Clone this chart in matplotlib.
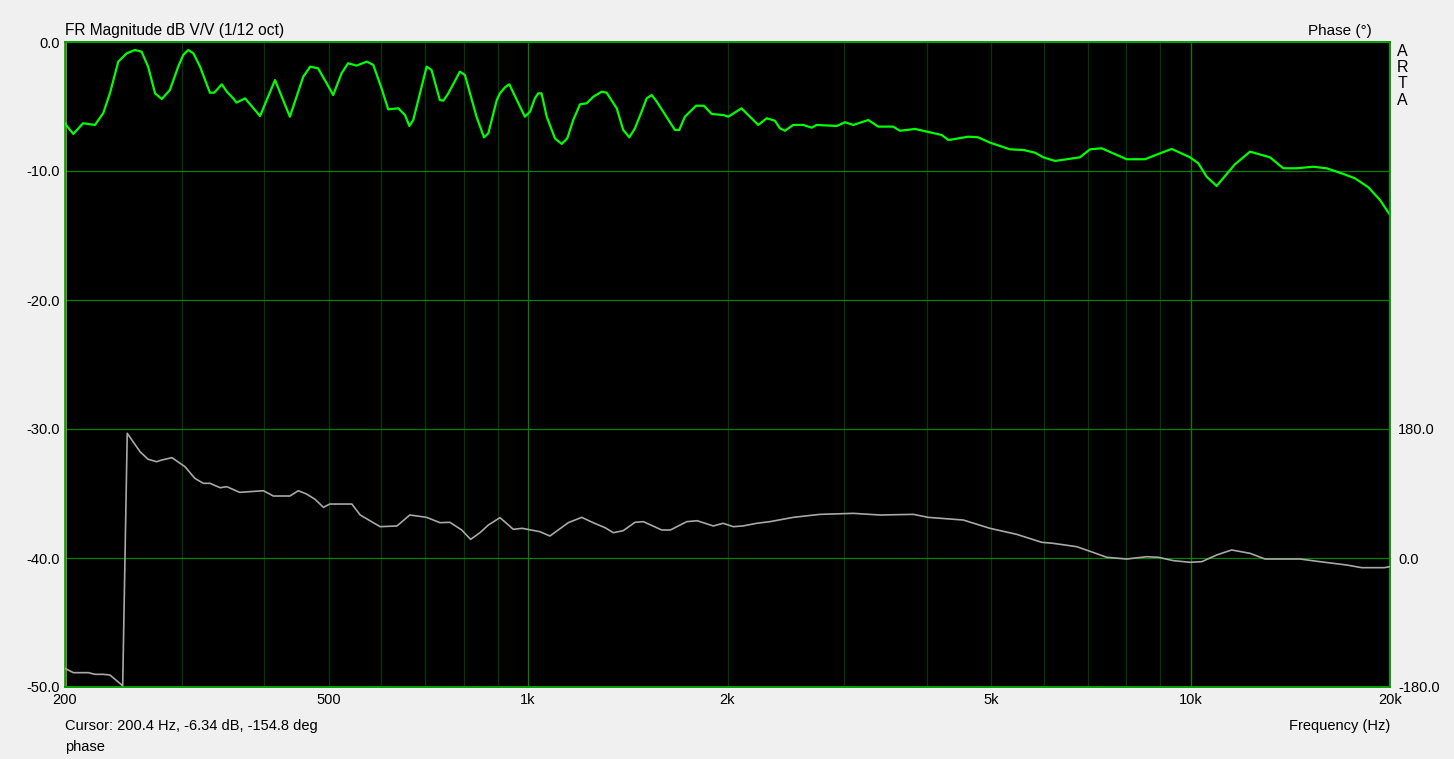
import numpy as np
import matplotlib
matplotlib.use('Agg')
import matplotlib.pyplot as plt

# magnitude (1/12 oct smoothed)
mag_freq = [200, 200.7, 205.9, 213, 222, 228.5, 233.8, 240.7, 247.8, 255, 261, 267, 273.5, 280, 288,
            296.5, 301.7, 307, 312.5, 319.8, 331, 336, 345, 351, 359, 363, 374, 394, 415, 437,
            457.8, 469, 482, 496.6, 508, 523, 535, 551, 571, 584, 601, 615, 637, 652, 662, 671,
            695, 703, 715, 736, 745, 758, 789, 803, 836, 858, 871, 897, 907, 923, 937, 989, 1007,
            1024, 1036, 1048, 1067, 1098, 1124, 1146, 1170, 1198, 1226, 1255, 1292, 1314, 1361,
            1392, 1422, 1450, 1484, 1510, 1537, 1564, 1666, 1691, 1725, 1793, 1843, 1893, 1971,
            2006, 2100, 2226, 2292, 2358, 2400, 2442, 2513, 2602, 2680, 2727, 2924, 3010, 3097,
            3262, 3378, 3558, 3642, 3838, 3998, 4212, 4310, 4618, 4780, 4980, 5339, 5592, 5824,
            5994, 6244, 6808, 7051, 7342, 8010, 8535, 8940, 9366, 9981, 10272, 10576, 10950,
            11668, 12297, 13181, 13804, 14459, 15321, 16052, 17009, 17713, 18550, 19321, 20000]
mag_db = [-6.3, -6.43, -7.13, -6.3, -6.43, -5.5, -3.98, -1.52, -0.88, -0.62, -0.75, -1.91, -3.98,
          -4.42, -3.72, -1.9, -1.0, -0.62, -0.88, -1.91, -3.93, -3.93, -3.28, -3.85, -4.37, -4.7,
          -4.37, -5.74, -2.95, -5.79, -2.69, -1.91, -2.04, -3.2, -4.11, -2.43, -1.65, -1.83,
          -1.52, -1.78, -3.59, -5.22, -5.14, -5.66, -6.51, -6.05, -2.95, -1.91, -2.17, -4.5,
          -4.55, -3.98, -2.3, -2.56, -5.79, -7.39, -7.08, -4.5, -3.98, -3.51, -3.28, -5.79,
          -5.4, -4.37, -3.98, -3.98, -5.79, -7.47, -7.9, -7.47, -6.05, -4.83, -4.75, -4.24,
          -3.85, -3.93, -5.14, -6.82, -7.39, -6.69, -5.4, -4.37, -4.11, -4.62, -6.82, -6.82,
          -5.79, -4.94, -4.94, -5.58, -5.66, -5.79, -5.14, -6.43, -5.91, -6.1, -6.69, -6.88,
          -6.43, -6.43, -6.64, -6.43, -6.51, -6.22, -6.43, -6.05, -6.56, -6.56, -6.88, -6.74,
          -6.95, -7.21, -7.6, -7.34, -7.39, -7.8, -8.32, -8.37, -8.58, -8.94, -9.22, -8.94,
          -8.32, -8.24, -9.09, -9.09, -8.68, -8.29, -8.94, -9.4, -10.44, -11.16, -9.48, -8.5,
          -8.94, -9.79, -9.79, -9.67, -9.79, -10.23, -10.57, -11.26, -12.25, -13.41]

# phase in degrees
ph_freq = [200, 205.9, 216.9, 222, 228.5, 233.8, 244.4, 248.3, 259.6, 267, 275, 280, 290, 303.5,
           314, 323.5, 331, 343, 351, 367, 398.5, 412.6, 437, 450, 463, 477, 491, 502, 542, 558,
           598, 634, 663, 703, 736, 762, 794, 819, 846, 871, 907, 950, 980, 1042, 1079, 1150,
           1205, 1260, 1307, 1345, 1392, 1450, 1493, 1591, 1640, 1736, 1800, 1904, 1970, 2041,
           2110, 2213, 2318, 2513, 2758, 3097, 3398, 3816, 4019, 4538, 4980, 5466, 5961, 6200,
           6731, 7009, 7470, 8010, 8586, 8940, 9420, 9981, 10400, 10950, 11535, 12297, 12953,
           14628, 15400, 17210, 18130, 19600, 20000]
ph_deg = [-153.9, -160, -160, -162.3, -162.3, -163.3, -178.2, 174, 148.3, 137.7, 134.4, 136.7, 140,
          127.4, 111.2, 104.2, 104.2, 98.1, 99.5, 91.6, 93.9, 86.5, 86.5, 93.9, 89.3, 81.9, 70.7,
          75.3, 75.3, 60, 43.7, 44.7, 60, 56.7, 49.3, 49.8, 39.1, 26, 35.3, 46, 56.3, 40, 41.4,
          36.7, 30.7, 49.3, 56.7, 48.4, 42.3, 35.3, 38.1, 49.8, 50.7, 39.1, 39.1, 50.7, 52, 44.7,
          48.4, 43.7, 44.7, 48.4, 50.7, 56.7, 60.9, 62.3, 60, 60.9, 56.7, 53, 41.4, 33, 21.9,
          20.5, 15.8, 10.2, 1, -1.4, 1.8, 1, -3.7, -6, -5.1, 4.2, 11.2, 6.5, -1.4, -1.4, -4.2,
          -9.8, -13.5, -13.5, -12.1]

xtick_pos = [200, 500, 1000, 2000, 5000, 10000, 20000]
xtick_lab = ['200', '500', '1k', '2k', '5k', '10k', '20k']
db_ticks = [0, -10, -20, -30, -40, -50]
ph_ticks = [-180, 0, 180]

plt.rcParams['font.family'] = ['Liberation Sans', 'DejaVu Sans']
bg = '#f0f0f0'
fig = plt.figure(figsize=(14.54, 7.59), dpi=100, facecolor=bg)
ax = fig.add_axes([65/1454, 1-687/759, 1325/1454, 645/759])
ax.set_facecolor('black')
ax.set_xscale('log')
ax.set_xlim(200, 20000)
ax.set_ylim(-50, 0)

# grid: decades bright, the rest dark
for f in [300, 400, 500, 600, 700, 800, 900, 2000, 3000, 4000, 5000, 6000, 7000, 8000, 9000]:
    ax.axvline(f, color='#003c00', lw=0.9, zorder=1)
for f in [1000, 10000]:
    ax.axvline(f, color='#008000', lw=0.9, zorder=1)
for d in [-10, -20, -30, -40]:
    ax.axhline(d, color='#008000', lw=0.9, zorder=1)
ax.axvline(200.4, color='#b0a000', lw=1.2, zorder=2)  # cursor

ax.plot(mag_freq, mag_db, color='#00ff00', lw=1.6, zorder=4, solid_joinstyle='round')

ax.set_xticks(xtick_pos)
ax.set_xticklabels(xtick_lab)
ax.xaxis.set_minor_locator(matplotlib.ticker.NullLocator())
ax.set_yticks(db_ticks)
ax.set_yticklabels(['%.1f' % v for v in db_ticks])
ax.tick_params(length=0, labelsize=10.5, pad=4, colors='black')
for s in ax.spines.values():
    s.set_color('#00a000')
    s.set_linewidth(1.2)

ax2 = ax.twinx()
ax2.set_ylim(-180, 720)
ax2.plot(ph_freq, ph_deg, color='#a8a8a8', lw=1.2, zorder=3, solid_joinstyle='round')
ax2.set_yticks(ph_ticks)
ax2.set_yticklabels(['%.1f' % v for v in ph_ticks])
ax2.tick_params(length=0, labelsize=10.5, pad=6)
for s in ax2.spines.values():
    s.set_color('#00a000')
    s.set_linewidth(1.2)
ax2.spines['left'].set_visible(False)

fig.text(65/1454, 1-31/759, 'FR Magnitude dB V/V (1/12 oct)', fontsize=11.2, va='center', ha='left')
fig.text(1372/1454, 1-31/759, 'Phase (°)', fontsize=11, va='center', ha='right')
for i, ch in enumerate('ARTA'):
    fig.text(1402/1454, 1-(51+i*16.5)/759, ch, fontsize=11.5, va='center', ha='center')
fig.text(65/1454, 1-726/759, 'Cursor: 200.4 Hz, -6.34 dB, -154.8 deg', fontsize=10.5, va='center', ha='left')
fig.text(65/1454, 1-747/759, 'phase', fontsize=10.5, va='center', ha='left')
fig.text(1390/1454, 1-726/759, 'Frequency (Hz)', fontsize=10.5, va='center', ha='right')

fig.savefig('out.png', dpi=100, facecolor=bg)
